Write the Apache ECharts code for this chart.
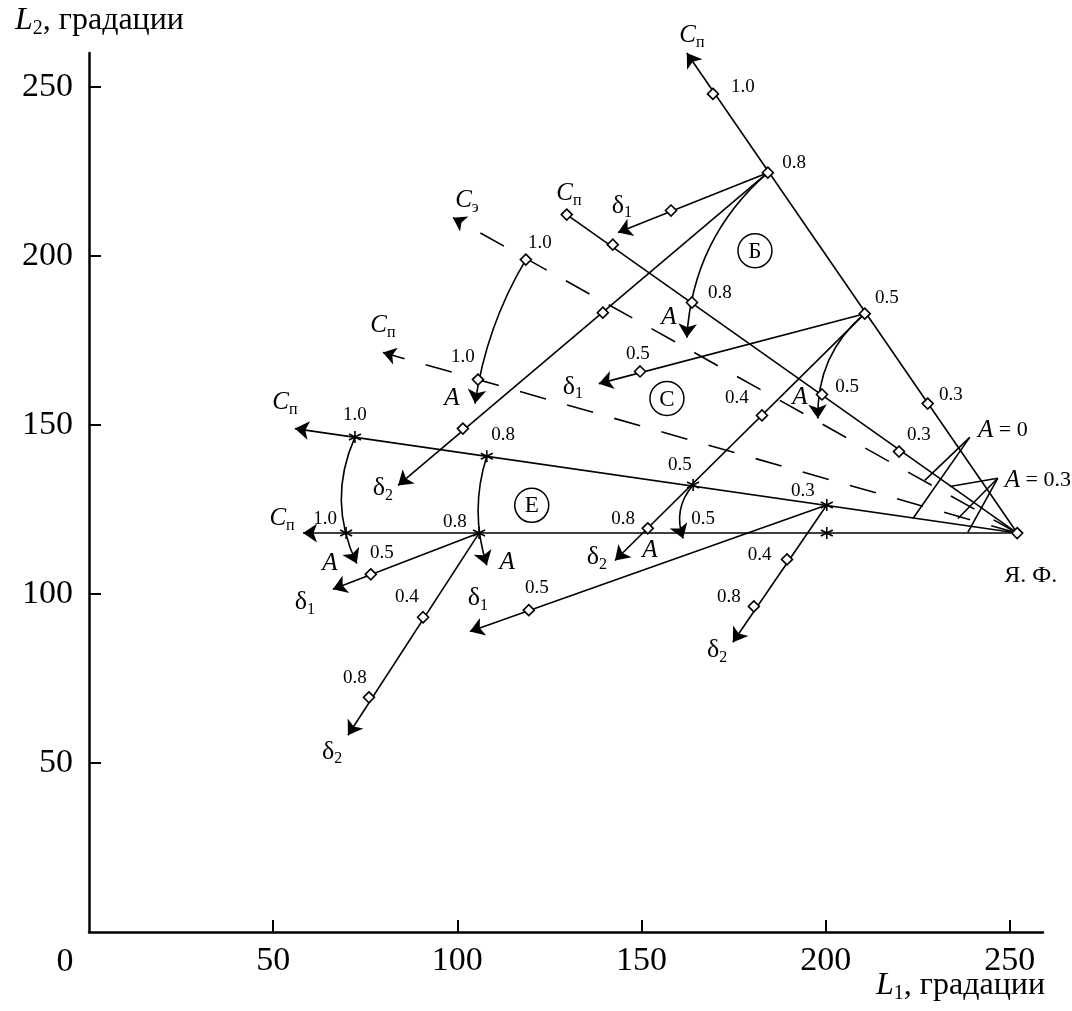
<!DOCTYPE html>
<html>
<head>
<meta charset="utf-8">
<script src="https://cdn.jsdelivr.net/npm/echarts@6/dist/echarts.min.js"></script>
<style>
  html, body { margin: 0; padding: 0; background: #fff; }
  #chart { width: 1072px; height: 1011px; }
</style>
</head>
<body>
<div id="chart"></div>
<script>
var chart = echarts.init(document.getElementById('chart'));

// деления осей
var axisTicks = [50, 100, 150, 200, 250];

// лучи от Я.Ф. (252, 118)
var rayArrows = [
  [[252, 118], [162.3, 260]],
  [[252, 118], [55.9, 148.9]],
  [[252, 118], [58.1, 118]]
];
var rayPlain = [
  [[252, 118], [129.7, 212.2]]
];
var rayDashed = [
  [[252, 118], [98.8, 211.3]],
  [[252, 118], [79.8, 171.4]]
];

// направления delta1 / delta2
var deltaArrows = [
  [[184.3, 224.6], [143.6, 206.9]],
  [[184.3, 224.6], [83.9, 132.1]],
  [[210.6, 182.9], [138.4, 162.2]],
  [[210.6, 182.9], [142.8, 109.9]],
  [[200.3, 126.3], [103.4, 88.9]],
  [[200.3, 126.3], [174.8, 85.7]],
  [[105.9, 118], [66.2, 101.4]],
  [[105.9, 118], [70.3, 58.2]]
];

// дуги A: начало, конец, кривизна
var arcs = [
  [[184.3, 224.6], [162.3, 175.8], -0.21],
  [[118.6, 198.9], [104.8, 156.3], -0.10],
  [[210.6, 182.9], [197.9, 151.9], -0.24],
  [[164, 132.2], [161.3, 116.4], -0.29],
  [[72.2, 146.4], [72.7, 109], -0.23],
  [[108, 140.7], [108, 108.5], -0.16]
];

// уголки A = 0 и A = 0.3
var angleMarks = [
  [[239.1, 146.3], [226.9, 133.6]],
  [[239.1, 146.3], [223.7, 122.3]],
  [[246.7, 134.2], [233.7, 131.8]],
  [[246.7, 134.2], [235.9, 122.3]],
  [[246.7, 134.2], [238.6, 118.2]]
];

var diamonds = [
  [252, 118],
  [227.7, 156.3], [210.6, 182.9], [184.3, 224.6], [169.4, 247.9],
  [219.9, 142.1], [199, 159], [163.7, 186.2], [142.2, 203.3], [129.7, 212.2],
  [118.6, 198.9], [105.6, 163.4],
  [158, 213.4], [139.5, 183.2], [101.5, 148.9],
  [149.6, 165.8], [182.7, 152.8], [151.7, 119.4],
  [119.4, 95.2], [189.5, 110.2], [180.5, 96.3],
  [76.5, 105.8], [90.7, 93.1], [76, 69.4]
];

var stars = [
  [72.2, 146.4], [108, 140.7], [164, 132.2], [200.3, 126.3],
  [69.8, 118], [105.9, 118], [200.3, 118]
];

var notes = [
  [163.7, 265.1, '{i|C}{s|п}'],
  [177.5, 250.0, '{n|1.0}'],
  [191.4, 227.5, '{n|0.8}'],
  [130.3, 218.4, '{i|C}{s|п}'],
  [144.7, 214.8, '{g|δ}{s|1}'],
  [171.3, 189.1, '{n|0.8}'],
  [216.6, 187.6, '{n|0.5}'],
  [234.0, 158.9, '{n|0.3}'],
  [225.3, 146.9, '{n|0.3}'],
  [248.1, 148.3, '{i|A}{t| = 0}'],
  [257.6, 133.6, '{i|A}{t| = 0.3}'],
  [255.7, 105.5, '{f|Я. Ф.}'],
  [102.6, 216.3, '{i|C}{s|э}'],
  [122.4, 203.9, '{n|1.0}'],
  [157.4, 181.7, '{i|A}'],
  [101.5, 170.2, '{n|1.0}'],
  [98.5, 157.8, '{i|A}'],
  [149.0, 171.1, '{n|0.5}'],
  [131.4, 161.3, '{g|δ}{s|1}'],
  [175.9, 157.8, '{n|0.4}'],
  [193.0, 158.1, '{i|A}'],
  [205.8, 161.1, '{n|0.5}'],
  [79.8, 179.4, '{i|C}{s|п}'],
  [112.4, 146.9, '{n|0.8}'],
  [53.2, 156.6, '{i|C}{s|п}'],
  [72.2, 152.8, '{n|1.0}'],
  [79.8, 131.2, '{g|δ}{s|2}'],
  [160.4, 138.0, '{n|0.5}'],
  [193.8, 130.3, '{n|0.3}'],
  [52.4, 122.3, '{i|C}{s|п}'],
  [64.1, 122.3, '{n|1.0}'],
  [99.3, 121.2, '{n|0.8}'],
  [145.0, 122.3, '{n|0.8}'],
  [166.7, 122.3, '{n|0.5}'],
  [65.4, 109.0, '{i|A}'],
  [79.5, 112.0, '{n|0.5}'],
  [113.5, 109.3, '{i|A}'],
  [137.9, 110.8, '{g|δ}{s|2}'],
  [152.3, 112.9, '{i|A}'],
  [182.1, 111.4, '{n|0.4}'],
  [58.6, 97.5, '{g|δ}{s|1}'],
  [86.3, 99.0, '{n|0.4}'],
  [105.6, 98.7, '{g|δ}{s|1}'],
  [121.6, 101.7, '{n|0.5}'],
  [173.7, 99.0, '{n|0.8}'],
  [72.2, 75.1, '{n|0.8}'],
  [66.0, 53.2, '{g|δ}{s|2}'],
  [170.5, 83.3, '{g|δ}{s|2}']
];

var circled = [
  [180.8, 201.5, 'Б'],
  [156.9, 157.8, 'С'],
  [120.2, 126.2, 'Е']
];

var serif = 'Liberation Serif';
var rich = {
  n: { fontFamily: serif, fontSize: 19, lineHeight: 30, verticalAlign: 'middle' },
  i: { fontFamily: serif, fontStyle: 'italic', fontSize: 25, lineHeight: 30, verticalAlign: 'middle' },
  g: { fontFamily: serif, fontSize: 26, lineHeight: 30, verticalAlign: 'middle' },
  t: { fontFamily: serif, fontSize: 22, lineHeight: 30, verticalAlign: 'middle' },
  f: { fontFamily: serif, fontSize: 24, lineHeight: 30, verticalAlign: 'middle' },
  s: { fontFamily: serif, fontSize: 16, lineHeight: 12, verticalAlign: 'bottom' }
};
var titleRich = {
  i: { fontFamily: serif, fontStyle: 'italic', fontSize: 32, lineHeight: 36, verticalAlign: 'middle' },
  s: { fontFamily: serif, fontSize: 20, lineHeight: 14, verticalAlign: 'bottom' },
  t: { fontFamily: serif, fontSize: 32, lineHeight: 36, verticalAlign: 'middle' }
};

var starPath = 'path://M5,0L5,10M0.7,2.5L9.3,7.5M0.7,7.5L9.3,2.5';

function seg(list) {
  return list.map(function (p) { return { coords: [p[0], p[1]] }; });
}

chart.setOption({
  animation: false,
  backgroundColor: '#fff',
  grid: { left: 89, right: 29, top: 53, bottom: 79 },
  xAxis: {
    type: 'value', min: 0, max: 259, interval: 50,
    splitLine: { show: false },
    axisLine: { lineStyle: { color: '#000', width: 2.5 } },
    axisTick: { inside: true, length: 12, customValues: axisTicks, lineStyle: { color: '#000', width: 2 } },
    axisLabel: { customValues: axisTicks, margin: 12, color: '#000', fontFamily: serif, fontSize: 34 }
  },
  yAxis: {
    type: 'value', min: 0, max: 260, interval: 50,
    splitLine: { show: false },
    axisLine: { lineStyle: { color: '#000', width: 2.5 } },
    axisTick: { inside: true, length: 12, customValues: axisTicks, lineStyle: { color: '#000', width: 2 } },
    axisLabel: { customValues: axisTicks, margin: 16, color: '#000', fontFamily: serif, fontSize: 34 }
  },
  series: [
    {
      type: 'lines', coordinateSystem: 'cartesian2d', clip: false,
      symbol: ['none', 'arrow'], symbolSize: 14,
      lineStyle: { color: '#000', width: 1.6, opacity: 1 },
      data: seg(rayArrows.concat(deltaArrows))
    },
    {
      type: 'lines', coordinateSystem: 'cartesian2d', clip: false,
      symbol: ['none', 'arrow'], symbolSize: 13,
      lineStyle: { color: '#000', width: 1.6, opacity: 1, type: [27, 22] },
      data: seg(rayDashed)
    },
    {
      type: 'lines', coordinateSystem: 'cartesian2d', clip: false,
      symbol: 'none',
      lineStyle: { color: '#000', width: 1.6, opacity: 1 },
      data: seg(rayPlain.concat(angleMarks))
    },
    {
      type: 'lines', coordinateSystem: 'cartesian2d', clip: false,
      symbol: ['none', 'arrow'], symbolSize: 14,
      lineStyle: { color: '#000', width: 1.6, opacity: 1 },
      data: arcs.map(function (a) {
        return { coords: [a[0], a[1]], lineStyle: { curveness: a[2] } };
      })
    },
    {
      type: 'scatter', clip: false, symbol: 'diamond', symbolSize: 11, z: 5,
      itemStyle: { color: '#fff', borderColor: '#000', borderWidth: 1.6, opacity: 1 },
      data: diamonds
    },
    {
      type: 'scatter', clip: false, symbol: starPath, symbolSize: 12, z: 5,
      itemStyle: { color: 'none', borderColor: '#000', borderWidth: 1.6, opacity: 1 },
      data: stars
    }
  ]
});

var graphics = [];
notes.forEach(function (n) {
  var p = chart.convertToPixel({ gridIndex: 0 }, [n[0], n[1]]);
  graphics.push({
    type: 'text', x: p[0], y: p[1], z: 10,
    style: { text: n[2], rich: rich, align: 'center', verticalAlign: 'middle', fill: '#000' }
  });
});
circled.forEach(function (c) {
  var p = chart.convertToPixel({ gridIndex: 0 }, [c[0], c[1]]);
  graphics.push({
    type: 'circle', shape: { cx: p[0], cy: p[1], r: 17 }, z: 10,
    style: { fill: '#fff', stroke: '#000', lineWidth: 1.5 }
  });
  graphics.push({
    type: 'text', x: p[0], y: p[1] + 1, z: 11,
    style: { text: c[2], font: '23px "Liberation Serif"', align: 'center', verticalAlign: 'middle', fill: '#000' }
  });
});
// подписи осей
graphics.push({
  type: 'text', left: 15, top: 5, z: 10,
  style: { text: '{i|L}{s|2}{t|, градации}', rich: titleRich }
});
graphics.push({
  type: 'text', right: 27, top: 970, z: 10,
  style: { text: '{i|L}{s|1}{t|, градации}', rich: titleRich }
});
graphics.push({
  type: 'text', x: 65, y: 962, z: 10,
  style: { text: '0', font: '34px "Liberation Serif"', align: 'center', verticalAlign: 'middle', fill: '#000' }
});

chart.setOption({ graphic: graphics });
</script>
</body>
</html>
